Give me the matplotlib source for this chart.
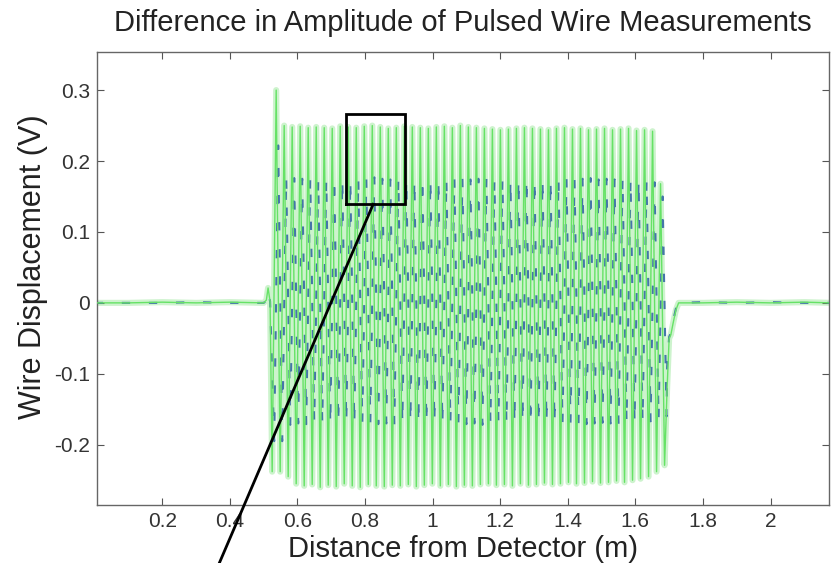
import matplotlib
matplotlib.use("Agg")
import matplotlib.pyplot as plt
import numpy as np

plt.rcParams['font.family'] = ['Liberation Sans', 'DejaVu Sans']

# ---- data ----
title = "Difference in Amplitude of Pulsed Wire Measurements"
xlabel = "Distance from Detector (m)"
ylabel = "Wire Displacement (V)"
xticks = [0.2, 0.4, 0.6, 0.8, 1.0, 1.2, 1.4, 1.6, 1.8, 2.0]
xticklabels = ["0.2", "0.4", "0.6", "0.8", "1", "1.2", "1.4", "1.6", "1.8", "2"]
yticks = [-0.2, -0.1, 0.0, 0.1, 0.2, 0.3]
yticklabels = ["-0.2", "-0.1", "0", "0.1", "0.2", "0.3"]

first_peak_x = 0.537      # position of first maximum (m)
period = 0.0237           # oscillation period (m)

green_max = [0.300, 0.250, 0.248, 0.249, 0.247, 0.248, 0.247, 0.246, 0.249, 0.248,
             0.247, 0.249, 0.250, 0.248, 0.246, 0.247, 0.249, 0.248, 0.247, 0.246,
             0.248, 0.249, 0.247, 0.250, 0.248, 0.247, 0.246, 0.245, 0.244, 0.245,
             0.246, 0.247, 0.246, 0.245, 0.244, 0.246, 0.247, 0.245, 0.246, 0.244,
             0.245, 0.246, 0.244, 0.245, 0.246, 0.243, 0.244, 0.242, 0.168]
green_min = [-0.238, -0.245, -0.255, -0.258, -0.256, -0.260, -0.257, -0.259, -0.255, -0.258,
             -0.260, -0.256, -0.258, -0.259, -0.257, -0.258, -0.256, -0.259, -0.257, -0.255,
             -0.258, -0.256, -0.259, -0.257, -0.258, -0.256, -0.255, -0.257, -0.256, -0.258,
             -0.255, -0.257, -0.256, -0.254, -0.256, -0.255, -0.253, -0.255, -0.254, -0.252,
             -0.254, -0.253, -0.251, -0.253, -0.250, -0.248, -0.245, -0.238, -0.229]
blue_max = [0.222, 0.178, 0.176, 0.175, 0.176, 0.174, 0.175, 0.176, 0.175, 0.174,
            0.176, 0.175, 0.177, 0.175, 0.174, 0.176, 0.175, 0.174, 0.176, 0.175,
            0.174, 0.175, 0.176, 0.175, 0.174, 0.175, 0.176, 0.174, 0.175, 0.174,
            0.175, 0.176, 0.174, 0.175, 0.174, 0.176, 0.175, 0.174, 0.175, 0.176,
            0.174, 0.175, 0.174, 0.176, 0.175, 0.174, 0.173, 0.170, 0.150]
blue_min = [-0.195, -0.172, -0.170, -0.171, -0.169, -0.170, -0.172, -0.170, -0.169, -0.171,
            -0.170, -0.169, -0.171, -0.170, -0.172, -0.170, -0.169, -0.171, -0.170, -0.169,
            -0.171, -0.170, -0.169, -0.171, -0.170, -0.172, -0.170, -0.169, -0.171, -0.170,
            -0.169, -0.171, -0.170, -0.169, -0.170, -0.171, -0.169, -0.170, -0.171, -0.170,
            -0.169, -0.170, -0.171, -0.169, -0.170, -0.168, -0.167, -0.165, -0.160]

# baseline before the pulse train and the tail after it
pre_x = [0.0, 0.10, 0.20, 0.30, 0.40, 0.50, 0.508, 0.513, 0.519]
pre_green = [0.0, 0.0, 0.001, 0.0, 0.001, 0.0, 0.004, 0.021, 0.002]
pre_blue = [0.0, 0.0, 0.0, 0.001, 0.0, 0.0, 0.003, 0.016, 0.002]
post_x = [1.694, 1.700, 1.705, 1.712, 1.720, 1.728, 1.80, 1.90, 2.00, 2.10, 2.18]
post_green = [-0.120, -0.050, -0.045, -0.028, -0.010, 0.0, 0.0, 0.001, 0.0, 0.001, 0.0]
post_blue = [-0.090, -0.048, -0.042, -0.025, -0.008, 0.0, 0.001, 0.0, 0.001, 0.0, 0.0]

# zoom box and pointer line (data coordinates)
box_x = [0.744, 0.919]
box_y = [0.139, 0.266]
pointer_start = (0.824, 0.139)
pointer_end = (0.365, -0.371)

xlim = (0.007, 2.172)
ylim = (-0.285, 0.354)


def build(pre_vals, maxs, mins, post_vals, shift=0.0):
    xs = list(pre_x)
    ys = list(pre_vals)
    n = len(maxs)
    for k in range(n):
        xmax = first_peak_x + k * period + shift
        xs += [xmax - period / 2, xmax]
        ys += [mins[k - 1] if k > 0 else mins[0], maxs[k]]
    xs += [first_peak_x + (n - 1) * period + period / 2 + shift]
    ys += [mins[-1]]
    xs += post_x
    ys += post_vals
    return np.array(xs), np.array(ys)


gx, gy = build(pre_green, green_max, green_min, post_green)
bx, by = build(pre_blue, blue_max, blue_min, post_blue, shift=period / 4)

fig = plt.figure(figsize=(8.37, 5.63), dpi=100)
ax = fig.add_axes([0.116, 0.103, 0.874, 0.805])

# pale halo of the dense green trace
ax.plot(gx, gy, color='#cdf3cd', lw=4.4, zorder=1)
# blue trace (mostly hidden under the green one)
ax.plot(bx, by, color='#3567a6', lw=1.5, zorder=2, dashes=(4, 9), alpha=0.9)
# bright green trace
ax.plot(gx, gy, color='#66e266', lw=1.0, zorder=3)

# zoom box + pointer
ax.plot([box_x[0], box_x[1], box_x[1], box_x[0], box_x[0]],
        [box_y[0], box_y[0], box_y[1], box_y[1], box_y[0]],
        color='black', lw=2.0, zorder=5, solid_joinstyle='miter')
ax.plot([pointer_start[0], pointer_end[0]], [pointer_start[1], pointer_end[1]],
        color='black', lw=2.0, zorder=5, clip_on=False)

ax.set_xlim(*xlim)
ax.set_ylim(*ylim)
ax.set_xticks(xticks)
ax.set_xticklabels(xticklabels)
ax.set_yticks(yticks)
ax.set_yticklabels(yticklabels)
ax.tick_params(direction='in', top=True, right=True, length=5, width=0.8,
               colors='#555555', labelcolor='#333333', labelsize=15, pad=5)
for s in ax.spines.values():
    s.set_color('#666666')
    s.set_linewidth(1.0)

ax.set_title(title, fontsize=21, color='#222222', pad=15)
ax.set_xlabel(xlabel, fontsize=21, color='#222222', labelpad=3)
ax.set_ylabel(ylabel, fontsize=22, color='#222222')
ax.yaxis.set_label_coords(-0.067, 0.525)

fig.savefig("out.png", dpi=100)
